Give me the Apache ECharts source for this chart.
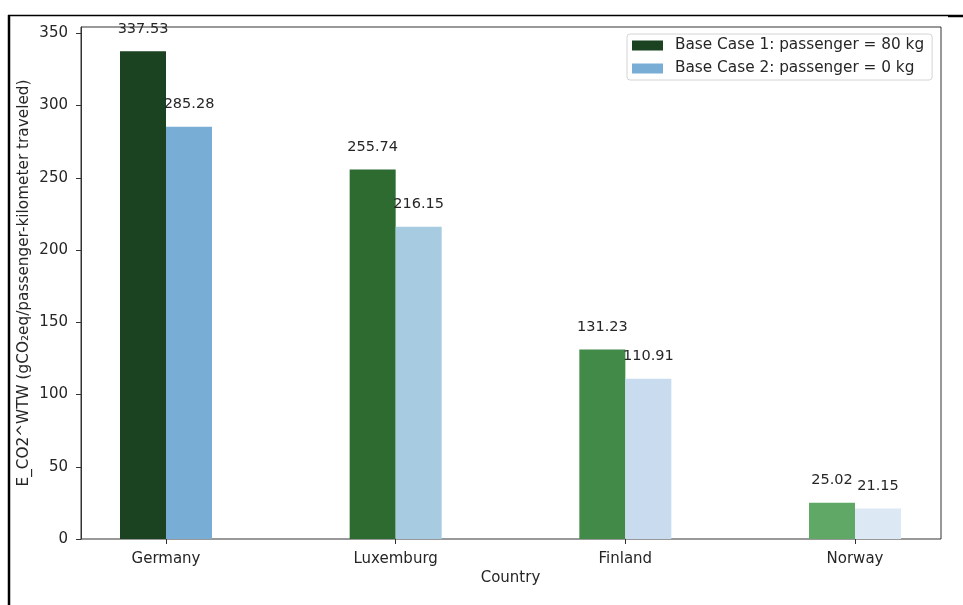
<!DOCTYPE html>
<html>
<head>
<meta charset="utf-8">
<title>E_CO2^WTW by country</title>
<script src="https://cdn.jsdelivr.net/npm/echarts@6/dist/echarts.min.js"></script>
<style>
  html, body { margin: 0; padding: 0; background: #fff; }
  #chart { width: 963px; height: 605px; }
</style>
</head>
<body>
<div id="chart"></div>
<script>
// Countries and emissions per passenger-kilometre for both load cases
const countries = ['Germany', 'Luxemburg', 'Finland', 'Norway'];
const case1Values = [337.53, 255.74, 131.23, 25.02];
const case2Values = [285.28, 216.15, 110.91, 21.15];
const yTicks = [0, 50, 100, 150, 200, 250, 300, 350];
const seriesNames = ['Base Case 1: passenger = 80 kg', 'Base Case 2: passenger = 0 kg'];

// Each country gets its own shade in the green / blue palettes
const greens = ['#1b4221', '#2d6b30', '#428a48', '#5fa865'];
const blues = ['#78add5', '#a7cbe0', '#c8dbef', '#dde8f5'];

const textColor = '#262626';
const font = 'DejaVu Sans';
const yMax = 354.4;

function barData(values, palette) {
  return values.map((v, i) => ({ value: v, itemStyle: { color: palette[i] } }));
}

function valueLabel() {
  return {
    show: true, position: 'top', distance: 15,
    formatter: p => p.value.toFixed(2),
    fontSize: 14.5, color: textColor, fontFamily: font
  };
}

const chart = echarts.init(document.getElementById('chart'), null, { renderer: 'canvas' });

chart.setOption({
  animation: false,
  textStyle: { fontFamily: font },
  graphic: [
    { type: 'line', shape: { x1: 8, y1: 15.5, x2: 948, y2: 15.5 }, style: { stroke: '#000', lineWidth: 1.5 } },
    { type: 'line', shape: { x1: 948, y1: 16, x2: 963, y2: 16 }, style: { stroke: '#000', lineWidth: 2.5 } },
    { type: 'line', shape: { x1: 9, y1: 15, x2: 9, y2: 605 }, style: { stroke: '#000', lineWidth: 2.5 } }
  ],
  legend: {
    orient: 'vertical',
    left: 627,
    top: 34,
    data: seriesNames,
    itemWidth: 31,
    itemHeight: 10,
    itemGap: 8,
    padding: [4, 8, 4, 5],
    borderColor: '#d4d4d4',
    borderWidth: 1,
    borderRadius: 3,
    backgroundColor: '#fff',
    icon: 'rect',
    textStyle: { fontFamily: font, fontSize: 15.3, color: textColor, padding: [0, 0, 0, 7] }
  },
  grid: [
    // plot frame with the value axis
    { left: 81, top: 27, width: 860, height: 512, show: true, borderColor: '#333', borderWidth: 1, backgroundColor: 'transparent' },
    // category positions: first country at the left edge, last at the right edge
    { left: 166, top: 27, width: 689, height: 512, show: false }
  ],
  xAxis: [
    { type: 'value', gridIndex: 0, min: 0, max: 1, show: false },
    {
      type: 'category',
      gridIndex: 1,
      data: countries,
      boundaryGap: false,
      axisLine: { show: false },
      axisTick: { show: true, length: 5, lineStyle: { color: '#333' } },
      axisLabel: { margin: 13, fontSize: 15, color: textColor, fontFamily: font },
      name: 'Country',
      nameLocation: 'middle',
      nameGap: 32,
      nameMoveOverlap: false,
      nameTextStyle: { fontSize: 15, color: textColor, fontFamily: font }
    }
  ],
  yAxis: [
    {
      type: 'value',
      gridIndex: 0,
      min: 0,
      max: yMax,
      axisLine: { show: true, lineStyle: { color: '#333' } },
      axisTick: { show: true, length: 5, customValues: yTicks, lineStyle: { color: '#333' } },
      axisLabel: { margin: 13, fontSize: 15, color: textColor, fontFamily: font, customValues: yTicks },
      splitLine: { show: false },
      name: 'E_CO2^WTW (gCO\u2082eq/passenger-kilometer traveled)',
      nameLocation: 'middle',
      nameGap: 49,
      nameMoveOverlap: false,
      nameTextStyle: { fontSize: 15.3, color: textColor, fontFamily: font }
    },
    { type: 'value', gridIndex: 1, min: 0, max: yMax, show: false }
  ],
  series: [
    {
      name: seriesNames[0],
      type: 'bar',
      xAxisIndex: 1,
      yAxisIndex: 1,
      barWidth: 46,
      barGap: '0%',
      clip: false,
      itemStyle: { color: greens[0] },
      data: barData(case1Values, greens),
      label: valueLabel()
    },
    {
      name: seriesNames[1],
      type: 'bar',
      xAxisIndex: 1,
      yAxisIndex: 1,
      barWidth: 46,
      barGap: '0%',
      clip: false,
      itemStyle: { color: blues[0] },
      data: barData(case2Values, blues),
      label: valueLabel()
    }
  ]
});
</script>
</body>
</html>
